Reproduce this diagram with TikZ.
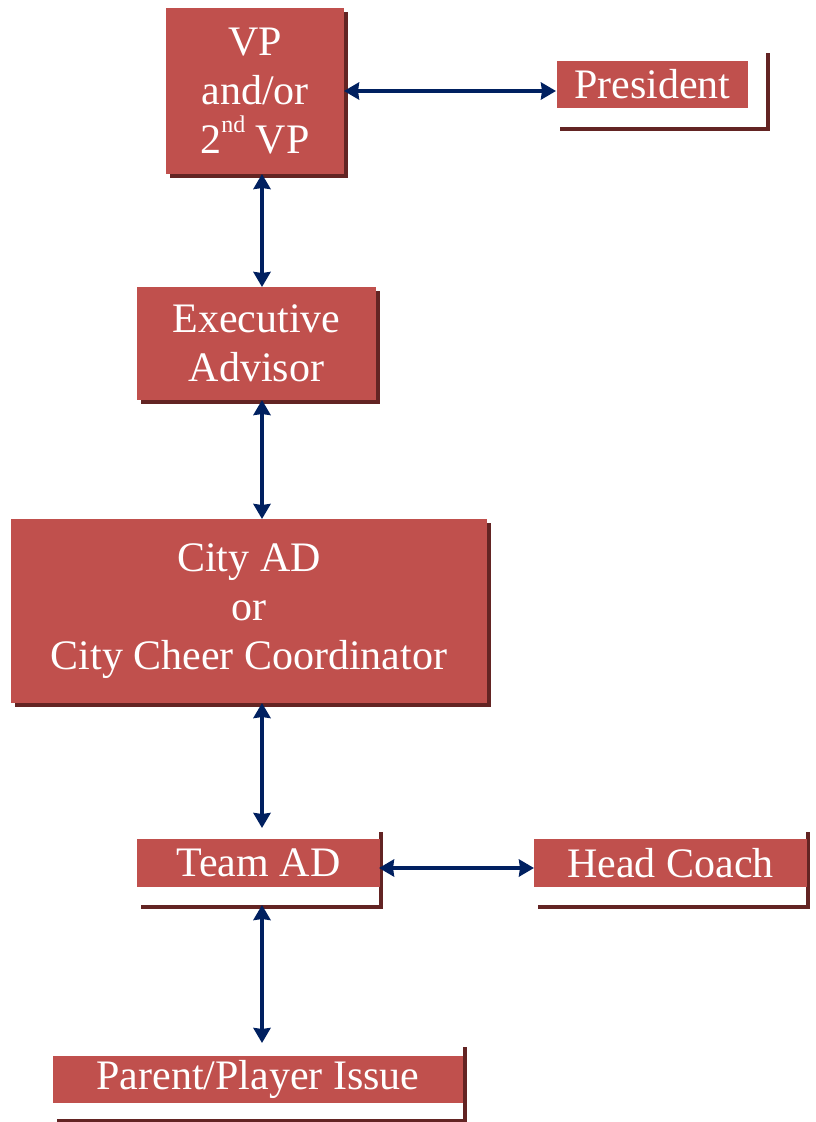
\documentclass[tikz,border=0pt]{standalone}
\usepackage{fontspec}
\setmainfont{Liberation Serif}
\usetikzlibrary{arrows.meta,shadows}
\definecolor{boxred}{RGB}{192,80,77}
\definecolor{shadowred}{RGB}{99,36,35}
\definecolor{navyc}{RGB}{0,32,96}
\newcommand{\supnd}{\raisebox{0.5em}{\fontsize{24}{24}\selectfont nd}}
\begin{document}
\begin{tikzpicture}[x=1pt,y=-1pt,
  shadowbox/.style={inner sep=0pt, outer sep=0pt, anchor=north west,
    drop shadow={shadow xshift=4pt, shadow yshift=-4pt, fill=shadowred, opacity=1}},
  redbox/.style={shadowbox, fill=boxred, text=white, align=center,
    font=\fontsize{42}{49}\selectfont},
  whitebox/.style={shadowbox, fill=white},
  hilite/.style={inner sep=0pt, outer sep=0pt, anchor=north west, fill=boxred,
    text=white, font=\fontsize{42}{49}\selectfont},
  conn/.style={draw=navyc, line width=4.5pt,
    {Stealth[length=15pt,width=17pt,inset=1pt]}-{Stealth[length=15pt,width=17pt,inset=1pt]}}
]
\useasboundingbox (0,0) rectangle (815,1122);

% multi-line boxes
\node[redbox, minimum width=178pt, minimum height=166pt] (vp) at (166,8)
  {VP\\and/or\\2\supnd\ VP};
\node[redbox, minimum width=239pt, minimum height=113pt] (exec) at (137,287)
  {Executive\\Advisor};
\node[redbox, minimum width=476pt, minimum height=184pt] (city) at (11,519)
  {City AD\\or\\City Cheer Coordinator};

% single-line boxes (outer frame with shadow + red text band)
\node[whitebox, minimum width=210pt, minimum height=78pt] (pres) at (556,49) {};
\node[hilite, minimum width=191pt, minimum height=47pt] (presT) at (557,61) {President};

\node[whitebox, minimum width=242pt, minimum height=77pt] (team) at (137,828) {};
\node[hilite, minimum width=243pt, minimum height=48pt] (teamT) at (137,839) {Team AD};

\node[whitebox, minimum width=272pt, minimum height=77pt] (head) at (534,828) {};
\node[hilite, minimum width=273pt, minimum height=48pt] (headT) at (534,839) {Head Coach};

\node[whitebox, minimum width=410pt, minimum height=76pt] (parent) at (53,1043) {};
\node[hilite, minimum width=410pt, minimum height=47pt] (parentT) at (53,1056) {Parent/Player Issue};

% connectors
\coordinate (ax) at (262,0);
\coordinate (h1) at (0,91);
\coordinate (h2) at (0,868);
\draw[conn] (vp.south -| ax) -- (exec.north -| ax);
\draw[conn] (exec.south -| ax) -- (city.north -| ax);
\draw[conn] (city.south -| ax) -- (team.north -| ax);
\draw[conn] (team.south -| ax) -- (parent.north -| ax);
\draw[conn] (vp.east |- h1) -- (pres.west |- h1);
\draw[conn] (team.east |- h2) -- (head.west |- h2);
\end{tikzpicture}
\end{document}
